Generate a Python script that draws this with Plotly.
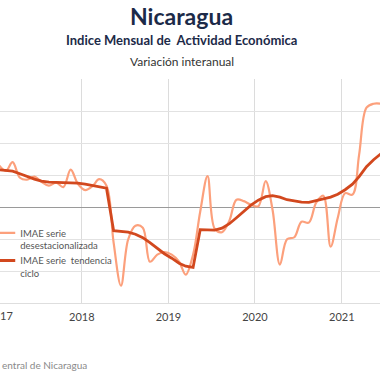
import plotly.graph_objects as go

# Monthly observations, Jan 2017 .. Jun 2021 (plotted mid-month)
years = [2017] * 12 + [2018] * 12 + [2019] * 12 + [2020] * 12 + [2021] * 6
months = list(range(1, 13)) * 4 + list(range(1, 7))
dates = [f"{y}-{m:02d}-15" for y, m in zip(years, months)]

# IMAE serie desestacionalizada (variación interanual, %)
desest = [5.29, 4.54, 5.60, 3.66, 3.41, 3.79, 3.16, 2.66, 3.04, 2.48, 4.66, 2.91,
          2.10, 2.60, 3.48, 2.66, -4.46, -9.84, -4.09, -2.34, -2.59, -6.84, -5.96, -5.65,
          -5.96, -6.84, -8.46, -5.96, -0.59, 3.85, -2.71, -3.15, -1.71, 0.91, 0.73, 0.29,
          0.10, 3.23, -0.34, -7.21, -4.03, -3.78, -1.84, -1.96, 0.54, 1.41, -4.96, -1.34,
          1.73, 1.54, 6.54, 12.41, 12.91, 12.91]

# IMAE serie tendencia ciclo (variación interanual, %)
tendencia = [4.66, 4.60, 4.48, 4.16, 3.79, 3.48, 3.23, 3.10, 3.08, 3.04, 3.04, 2.98,
             2.85, 2.66, 2.48, 2.35, -2.96, -3.03, -3.15, -3.40, -3.84, -4.46, -5.15, -5.84,
             -6.40, -7.03, -7.40, -7.55, -2.84, -2.90, -2.90, -2.65, -2.09, -1.34, -0.53, 0.23,
             0.85, 1.29, 1.41, 1.23, 0.91, 0.73, 0.60, 0.58, 0.79, 0.98, 1.23, 1.60,
             2.16, 2.85, 3.79, 5.04, 5.91, 6.66]

tick_years = ["2017", "2018", "2019", "2020", "2021"]
tick_dates = [f"{y}-01-01" for y in tick_years]

FONT = "Lato"
NAVY = "#1c2a48"

fig = go.Figure()
fig.add_trace(go.Scatter(
    x=dates, y=desest, mode="lines",
    name="IMAE serie<br>desestacionalizada",
    line=dict(color="#fca07c", width=2.2, shape="spline", smoothing=1.0),
))
fig.add_trace(go.Scatter(
    x=dates, y=tendencia, mode="lines",
    name="IMAE serie  tendencia<br>ciclo",
    line=dict(color="#d2481e", width=2.8),
))

fig.update_layout(
    width=380, height=380,
    margin=dict(l=0, r=0, t=79, b=77, autoexpand=False),
    paper_bgcolor="white", plot_bgcolor="white",
    font=dict(family=FONT, color="#444", size=11),
    showlegend=True,
    legend=dict(
        x=-0.052, y=0.37, xanchor="left", yanchor="top",
        bgcolor="rgba(255,255,255,0)", borderwidth=0,
        font=dict(family=FONT, size=9.5, color="#555"),
        valign="top", tracegroupgap=0,
    ),
    xaxis=dict(
        type="date",
        range=["2017-01-21", "2021-06-11"],
        tickvals=tick_dates, ticktext=tick_years,
        showgrid=True, gridcolor="#dcdcdc", gridwidth=1,
        showline=True, linecolor="#dedede", linewidth=1,
        ticks="", ticklabelstandoff=4,
        tickfont=dict(family=FONT, size=11, color="#444"),
        zeroline=False, fixedrange=True,
    ),
    yaxis=dict(
        range=[-12, 16], dtick=4, tick0=0,
        showgrid=True, gridcolor="#e2e2e2", gridwidth=1,
        zeroline=True, zerolinecolor="#9a9a9a", zerolinewidth=1,
        showticklabels=False, ticks="", fixedrange=True,
    ),
)

# white backdrop behind the legend: hides gridlines but lets the curves pass over it
fig.add_shape(type="rect", xref="paper", yref="paper",
              x0=-0.01, x1=0.29, y0=0.104, y1=0.363,
              fillcolor="white", line_width=0, layer="between")

annotations = [
    dict(text="<b>Nicaragua</b>", x=0.478, y=1.28, size=23, color=NAVY),
    dict(text="<b>Indice Mensual de  Actividad Económica</b>", x=0.478, y=1.175, size=13, color=NAVY),
    dict(text="Variación interanual", x=0.478, y=1.077, size=12, color="#333"),
]
for a in annotations:
    fig.add_annotation(
        text=a["text"], xref="paper", yref="paper", x=a["x"], y=a["y"],
        xanchor="center", yanchor="middle", showarrow=False,
        font=dict(family=FONT, size=a["size"], color=a["color"]),
    )

# cropped left-edge texts, as visible in the original
fig.add_annotation(text="17", xref="paper", yref="paper", x=-0.004, y=-0.057,
                   xanchor="left", yanchor="middle", showarrow=False,
                   font=dict(family=FONT, size=11, color="#444"))
fig.add_annotation(text="entral de Nicaragua", xref="paper", yref="paper",
                   x=0.0, y=-0.275, xanchor="left", yanchor="middle", showarrow=False,
                   font=dict(family=FONT, size=10, color="#8a8a8a"))

fig.write_html("out.html", config={"displayModeBar": False},
               post_script="document.body.style.margin='0';")
